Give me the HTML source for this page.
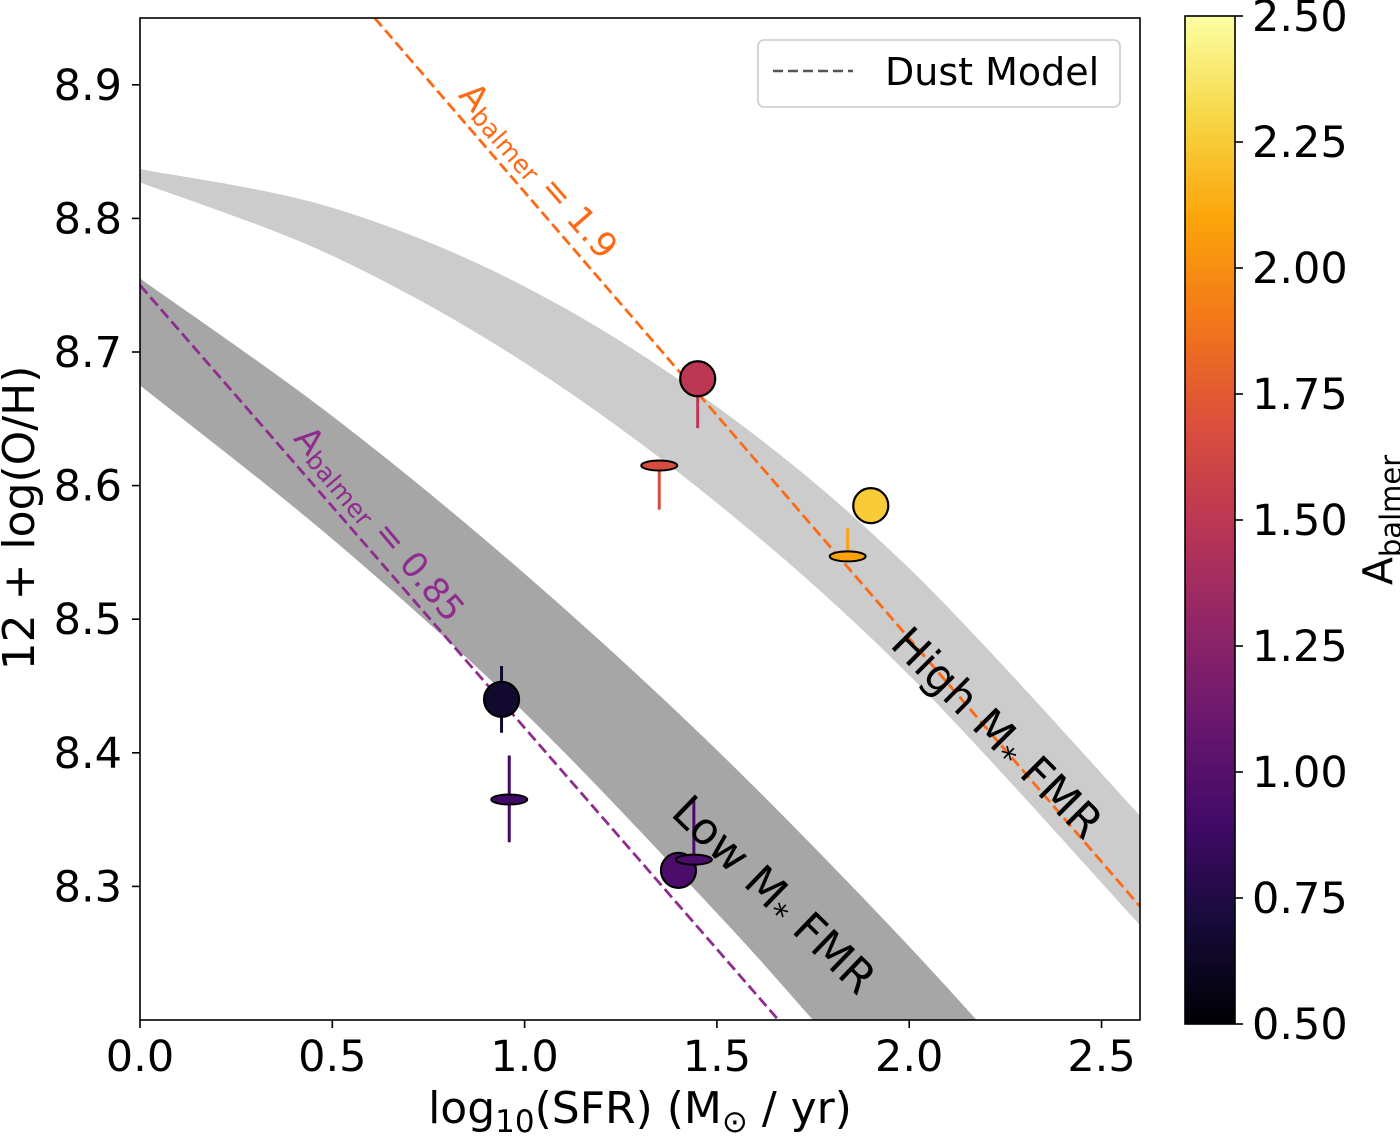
<!DOCTYPE html>
<html><head><meta charset="utf-8"><style>
html,body{margin:0;padding:0;background:#fff;width:1400px;height:1145px;overflow:hidden;}
svg{display:block;font-family:"DejaVu Sans","Liberation Sans",sans-serif;}
</style></head><body>
<svg id="chart" width="1400" height="1145" viewBox="0 0 1400 1145" xmlns="http://www.w3.org/2000/svg">
<defs>
<clipPath id="plotclip"><rect x="140" y="18" width="1000" height="1002"/></clipPath>
<linearGradient id="inferno" x1="0" y1="1" x2="0" y2="0">
<stop offset="0" stop-color="#000004"/><stop offset="0.1" stop-color="#160b39"/><stop offset="0.2" stop-color="#420a68"/><stop offset="0.3" stop-color="#6a176e"/><stop offset="0.4" stop-color="#932667"/><stop offset="0.5" stop-color="#bc3754"/><stop offset="0.6" stop-color="#dd513a"/><stop offset="0.7" stop-color="#f37819"/><stop offset="0.8" stop-color="#fca50a"/><stop offset="0.9" stop-color="#f6d746"/><stop offset="1" stop-color="#fcffa4"/>
</linearGradient>
</defs>
<g id="bands" clip-path="url(#plotclip)"></g>
<g id="lines" clip-path="url(#plotclip)"></g>
<g id="marks" clip-path="url(#plotclip)"></g>
<g id="labels">
<text x="537" y="172" transform="rotate(49 537 172)" text-anchor="middle" dominant-baseline="middle" font-size="35" fill="#fd6a15">A<tspan font-size="25" dy="8">balmer</tspan><tspan dy="-8"> = 1.9</tspan></text>
<text x="378" y="525" transform="rotate(50 378 525)" text-anchor="middle" dominant-baseline="middle" font-size="35" fill="#8e2d8e">A<tspan font-size="25" dy="8">balmer</tspan><tspan dy="-8"> = 0.85</tspan></text>
<text x="995" y="735" transform="rotate(45 995 735)" text-anchor="middle" dominant-baseline="middle" font-size="44" fill="#000">High M<tspan font-size="31" dy="10">*</tspan><tspan dy="-10"> FMR</tspan></text>
<text x="772" y="897" transform="rotate(44 772 897)" text-anchor="middle" dominant-baseline="middle" font-size="44" fill="#000">Low M<tspan font-size="31" dy="10">*</tspan><tspan dy="-10"> FMR</tspan></text>
</g>
<rect x="140" y="18" width="1000" height="1002" fill="none" stroke="#000" stroke-width="1.6"/>
<g id="axes"></g>
<g>
<rect x="758" y="40" width="362" height="67" rx="6" fill="#fff" fill-opacity="0.8" stroke="#ccc" stroke-width="1.6"/>
<line x1="773" y1="71" x2="853" y2="71" stroke="#555" stroke-width="2.6" stroke-dasharray="10,5"/>
<text x="885" y="85" font-size="38">Dust Model</text>
</g>
<text x="640" y="1123" text-anchor="middle" font-size="44">log<tspan font-size="31" dy="9">10</tspan><tspan dy="-9">(SFR) (M</tspan><tspan font-size="31" dy="9">⊙</tspan><tspan dy="-9"> / yr)</tspan></text>
<text x="34" y="518" transform="rotate(-90 34 518)" text-anchor="middle" font-size="44">12 + log(O/H)</text>
<rect x="1185" y="16" width="50" height="1008" fill="url(#inferno)" stroke="#000" stroke-width="1.6"/>
<text x="1392" y="520" transform="rotate(-90 1392 520)" text-anchor="middle" font-size="41">A<tspan font-size="29" dy="9">balmer</tspan></text>
</svg>
<script>
const xTicks=[0,0.5,1.0,1.5,2.0,2.5];
const xTickLabels=["0.0","0.5","1.0","1.5","2.0","2.5"];
const yTicks=[8.3,8.4,8.5,8.6,8.7,8.8,8.9];
const yTickLabels=["8.3","8.4","8.5","8.6","8.7","8.8","8.9"];
const cTicks=[0.5,0.75,1.0,1.25,1.5,1.75,2.0,2.25,2.5];
const cTickLabels=["0.50","0.75","1.00","1.25","1.50","1.75","2.00","2.25","2.50"];
// High-mass FMR band edges
const highUpperX=[0,0.5,1.0,1.5,2.0,2.6];
const highUpper=[8.837,8.808,8.749,8.659,8.538,8.353];
const highLowerX=[0,0.5,1.0,1.5,2.0,2.6];
const highLower=[8.827,8.772,8.692,8.587,8.458,8.271];
// Low-mass FMR band edges
const lowUpperX=[0,0.5,1.0,1.5,2.0,2.4];
const lowUpper=[8.755,8.652,8.534,8.402,8.255,8.127];
const lowLowerX=[0,0.5,1.0,1.5,1.75,2.0];
const lowLower=[8.675,8.56,8.43,8.28,8.2,8.12];
// Dust model lines (endpoints)
const dustHighX=[0.61,2.6];const dustHighY=[8.95,8.285];
const dustLowX=[0,1.66];const dustLowY=[8.75,8.2];
// Circles
const circX=[1.45,1.90,0.94,1.40];
const circY=[8.68,8.585,8.44,8.312];
const circA=[1.5,2.25,0.66,0.94];
const circErrLo=[8.643,8.585,8.415,8.312];
const circErrHi=[8.68,8.585,8.465,8.312];
// Ellipses
const ellX=[1.35,1.84,0.96,1.44];
const ellY=[8.615,8.547,8.365,8.32];
const ellA=[1.66,2.08,0.9,0.95];
const ellErrLo=[8.582,8.547,8.333,8.32];
const ellErrHi=[8.615,8.568,8.398,8.365];

const NS="http://www.w3.org/2000/svg";
const X0=140,X1=1140,Y0=1020,Y1=18;
function sx(v){return X0+(v-0)/(2.6-0)*(X1-X0);}
function sy(v){return Y0-(v-8.2)/(8.95-8.2)*(Y0-Y1);}
function cy(v){return 1024-(v-0.5)/2.0*1008;}
const inf=[[0,0,4],[22,11,57],[66,10,104],[106,23,110],[147,38,103],[188,55,84],[221,81,58],[243,120,25],[252,165,10],[246,215,70],[252,255,164]];
function cmap(a){let t=Math.max(0,Math.min(1,(a-0.5)/2));let f=t*10,i=Math.min(9,Math.floor(f)),r=f-i;
const c=inf[i].map((v,k)=>Math.round(v+(inf[i+1][k]-v)*r));return `rgb(${c[0]},${c[1]},${c[2]})`;}
function mk(tag,attrs,parent){const e=document.createElementNS(NS,tag);for(const k in attrs)e.setAttribute(k,attrs[k]);parent.appendChild(e);return e;}
function smooth(pts){let d=`M${pts[0][0]},${pts[0][1]}`;
for(let i=0;i<pts.length-1;i++){const p0=pts[i-1]||pts[i],p1=pts[i],p2=pts[i+1],p3=pts[i+2]||p2;
d+=` C${p1[0]+(p2[0]-p0[0])/6},${p1[1]+(p2[1]-p0[1])/6} ${p2[0]-(p3[0]-p1[0])/6},${p2[1]-(p3[1]-p1[1])/6} ${p2[0]},${p2[1]}`;}return d;}
function bandPath(ux,uy,lx,ly){const up=ux.map((x,i)=>[sx(x),sy(uy[i])]);const lo=lx.map((x,i)=>[sx(x),sy(ly[i])]).reverse();
let d=smooth(up);d+=' L'+smooth(lo).slice(1)+' Z';return d;}
const bands=document.getElementById('bands');
let hb=mk('path',{d:bandPath(highUpperX,highUpper,highLowerX,highLower),fill:'#cccccc'},bands);


let lb=mk('path',{d:bandPath(lowUpperX,lowUpper,lowLowerX,lowLower),fill:'#a6a6a6'},bands);


const lines=document.getElementById('lines');
let dl1=mk('line',{x1:sx(dustHighX[0]),y1:sy(dustHighY[0]),x2:sx(dustHighX[1]),y2:sy(dustHighY[1]),stroke:'#fd6a15','stroke-width':2.8,'stroke-dasharray':'11,5'},lines);


let dl2=mk('line',{x1:sx(dustLowX[0]),y1:sy(dustLowY[0]),x2:sx(dustLowX[1]),y2:sy(dustLowY[1]),stroke:'#8e2d8e','stroke-width':2.8,'stroke-dasharray':'11,5'},lines);


const marks=document.getElementById('marks');
circX.forEach((x,i)=>{const c=cmap(circA[i]);
if(circErrHi[i]>circErrLo[i]){let e=mk('line',{x1:sx(x),x2:sx(x),y1:sy(circErrLo[i]),y2:sy(circErrHi[i]),stroke:c,'stroke-width':3},marks);

}
let m=mk('circle',{cx:sx(x),cy:sy(circY[i]),r:17.5,fill:c,stroke:'#000','stroke-width':2.2},marks);

});
ellX.forEach((x,i)=>{const c=cmap(ellA[i]);
let e=mk('line',{x1:sx(x),x2:sx(x),y1:sy(ellErrLo[i]),y2:sy(ellErrHi[i]),stroke:c,'stroke-width':3},marks);


let m=mk('ellipse',{cx:sx(x),cy:sy(ellY[i]),rx:18,ry:5,fill:c,stroke:'#000','stroke-width':2},marks);

});
const axes=document.getElementById('axes');
xTicks.forEach((v,i)=>{let t=mk('line',{x1:sx(v),x2:sx(v),y1:Y0,y2:Y0+8,stroke:'#000','stroke-width':1.6},axes);


let l=mk('text',{x:sx(v),y:1071,'text-anchor':'middle','font-size':43},axes);l.textContent=xTickLabels[i];

});
yTicks.forEach((v,i)=>{let t=mk('line',{x1:X0-8,x2:X0,y1:sy(v),y2:sy(v),stroke:'#000','stroke-width':1.6},axes);


let l=mk('text',{x:122,y:sy(v)+15,'text-anchor':'end','font-size':43},axes);l.textContent=yTickLabels[i];

});
cTicks.forEach((v,i)=>{let t=mk('line',{x1:1235,x2:1243,y1:cy(v),y2:cy(v),stroke:'#000','stroke-width':1.6},axes);


let l=mk('text',{x:1252,y:cy(v)+15,'font-size':43},axes);l.textContent=cTickLabels[i];

});
</script>
</body></html>
